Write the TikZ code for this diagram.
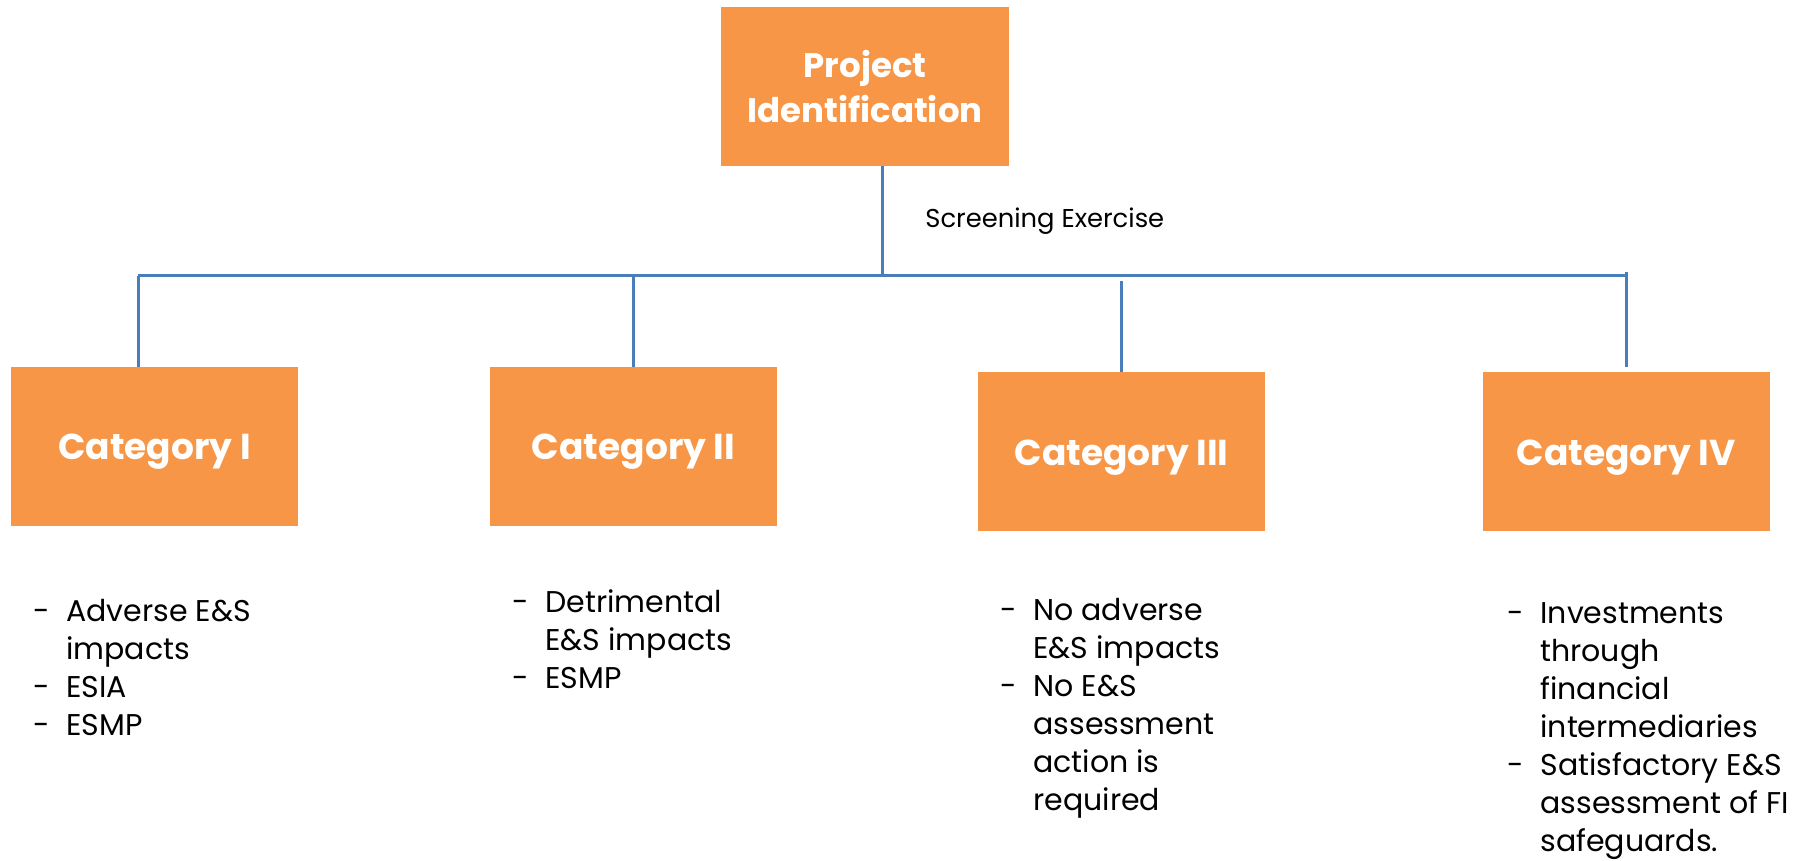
\documentclass[tikz,border=0pt]{standalone}
\usepackage{fontspec}
\setmainfont{Poppins}
\usepackage{tikz}
\usetikzlibrary{calc}
\definecolor{boxfill}{HTML}{F79646}
\definecolor{link}{HTML}{4A7EBB}
\newcommand{\dashlist}[1]{\begin{tabular}[t]{@{}p{16.5pt}@{}l@{}}#1\end{tabular}}
\tikzset{
  orangebox/.style={fill=boxfill, text=white, minimum height=79.5pt, inner sep=0pt, align=center},
  projbox/.style={orangebox, minimum width=144pt, font=\fontsize{17}{22.5}\selectfont\bfseries},
  catbox/.style={orangebox, minimum width=143.5pt, text height=18pt, text depth=4.5pt,
    font=\fontsize{18}{22}\selectfont\bfseries},
  wire/.style={draw=link, line width=1.5pt},
  note/.style={font=\fontsize{12.9}{15}\selectfont, anchor=west, inner sep=0pt},
  items/.style={font=\fontsize{15}{19}\selectfont, anchor=base west, inner sep=0pt}
}

\begin{document}
\begin{tikzpicture}[x=0.5pt,y=0.5pt]
  \useasboundingbox (0,0) rectangle (1798,861);

  \node[projbox] (proj) at (865,774.5) {Project\\Identification};
  \node[catbox] (cat1) at (154.5,414.5) {Category I};
  \node[catbox] (cat2) at (633.5,414.5) {Category II};
  \node[catbox] (cat3) at (1121.5,409) {Category III};
  \node[catbox] (cat4) at (1626,409) {Category IV};

  \coordinate (bus west) at (138,585);
  \coordinate (bus mid) at (882,585);
  \coordinate (bus east) at (1626,585);
  \coordinate (tap3) at (1121,580);
  \coordinate (tap4) at (1626,589);
  \coordinate (tap4 end) at (1626,494);

  \draw[wire] (proj.south -| bus mid) -- (bus mid);
  \draw[wire] (bus west) -- (bus east);
  \draw[wire] (bus west) -- (bus west |- cat1.north);
  \draw[wire] (cat2.north |- bus west) -- (cat2.north);
  \draw[wire] (tap3) -- (tap3 |- cat3.north);
  \draw[wire] (tap4) -- (tap4 end); % stops short of the box

  \node[note] (screen) at (925,640) {Screening Exercise};

  \node[items] (list1) at (33,239) {\dashlist{-&Adverse E\&S\\ &impacts\\ -&ESIA\\ -&ESMP}};
  \node[items] (list2) at (512,248) {\dashlist{-&Detrimental\\ &E\&S impacts\\ -&ESMP}};
  \node[items] (list3) at (1000,240) {\dashlist{-&No adverse\\ &E\&S impacts\\ -&No E\&S\\ &assessment\\ &action is\\ &required}};
  \node[items] (list4) at (1507,237) {\dashlist{-&Investments\\ &through\\ &financial\\ &intermediaries\\ -&Satisfactory E\&S\\ &assessment of FI\\ &safeguards.}};
\end{tikzpicture}
\end{document}
